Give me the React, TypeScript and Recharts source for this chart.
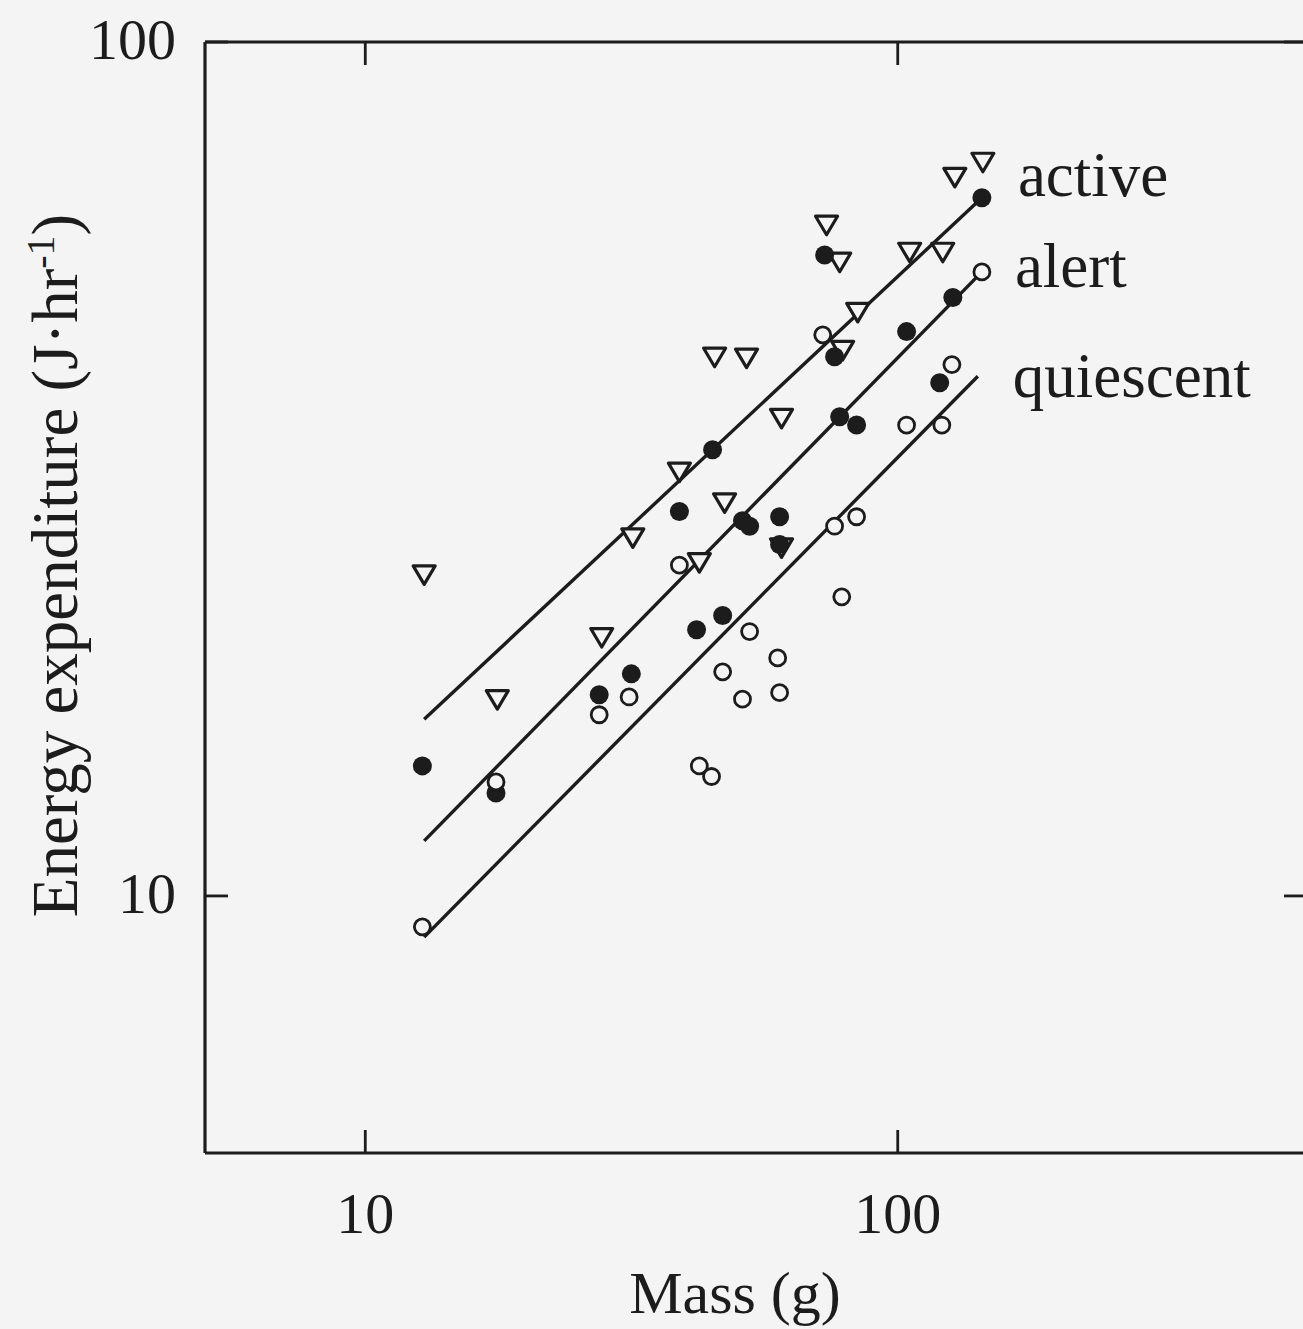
import { Scatter, ScatterChart, XAxis, YAxis } from 'recharts';

const INK = '#1c1c1c';
const PAPER = '#f4f4f4';
const SERIF = '"Liberation Serif", "DejaVu Serif", serif';

// axis ticks
const massTicks = [10, 100];
const energyTicks = [10, 100];

// open triangles: active
const activeMass = [144.5, 128, 73.5, 77.8, 105.3, 121.5, 84.1, 78.8, 45.3, 52.0, 60.5, 38.9, 47.3, 31.8, 42.4, 12.9, 27.8, 17.7, 60.5];
const activeEnergy = [72.4, 69.5, 61.1, 55.3, 56.8, 56.8, 48.3, 43.6, 42.8, 42.7, 36.3, 31.4, 28.9, 26.3, 24.6, 23.8, 20.1, 17.0, 25.6];

// filled circles: alert
const alertMass = [143.9, 72.9, 126.9, 103.9, 76.1, 119.9, 77.8, 83.7, 44.9, 38.9, 51.1, 52.7, 60.0, 60.0, 46.9, 41.9, 31.6, 27.5, 12.8, 17.6];
const alertEnergy = [65.7, 56.3, 50.2, 45.8, 42.8, 39.9, 36.4, 35.6, 33.3, 28.2, 27.5, 27.1, 27.8, 25.8, 21.3, 20.5, 18.2, 17.2, 14.2, 13.2];

// open circles: quiescent
const quietMass = [143.9, 72.3, 126.4, 103.9, 121.0, 76.1, 83.7, 38.9, 78.5, 52.7, 59.5, 46.9, 60.0, 51.1, 31.3, 27.5, 42.4, 44.7, 17.6, 12.8];
const quietEnergy = [53.8, 45.4, 41.9, 35.6, 35.6, 27.1, 27.8, 24.4, 22.4, 20.4, 19.0, 18.3, 17.3, 17.0, 17.1, 16.3, 14.2, 13.8, 13.6, 9.2];

// fitted lines (end points)
const activeFitMass = [12.9, 143.9];
const activeFitEnergy = [16.1, 65.7];
const alertFitMass = [12.9, 143.9];
const alertFitEnergy = [11.6, 53.8];
const quietFitMass = [12.9, 141.4];
const quietFitEnergy = [8.95, 40.6];

const toPoints = (xs: number[], ys: number[]) => xs.map((m, i) => ({ mass: m, energy: ys[i] }));
const toFit = (xs: number[], ys: number[], name: string) =>
  xs.map((m, i) => ({ mass: m, energy: ys[i], name: i === xs.length - 1 ? name : undefined }));

const OpenCircle = (p: any) => (
  <circle cx={p.cx} cy={p.cy} r={8} fill={PAPER} stroke={INK} strokeWidth={2.8} />
);
const FilledCircle = (p: any) => <circle cx={p.cx} cy={p.cy} r={9.5} fill={INK} />;
const Triangle = (p: any) => (
  <path
    d={`M${p.cx - 11},${p.cy - 8.5} L${p.cx + 11},${p.cy - 8.5} L${p.cx},${p.cy + 10} Z`}
    fill={PAPER}
    stroke={INK}
    strokeWidth={3.2}
    strokeLinejoin="round"
  />
);

const fitLabel = (dx: number, dy: number) => (p: any) =>
  p.payload?.name ? (
    <text x={p.cx + dx} y={p.cy + dy} fontSize={63} fontFamily={SERIF} fill={INK}>
      {p.payload.name}
    </text>
  ) : (
    <g />
  );

const tickStyle = { stroke: INK, strokeWidth: 2.8 };

function BottomTick({ x, y, payload }: any) {
  return (
    <g>
      <line x1={x} y1={y} x2={x} y2={y - 23} {...tickStyle} />
      <text x={x} y={y + 80} textAnchor="middle" fontSize={58} fontFamily={SERIF} fill={INK}>
        {payload.value}
      </text>
    </g>
  );
}
function TopTick({ x, y }: any) {
  return <line x1={x} y1={y} x2={x} y2={y + 23} {...tickStyle} />;
}
function LeftTick({ x, y, payload }: any) {
  return (
    <g>
      <line x1={x} y1={y} x2={x + 23} y2={y} {...tickStyle} />
      <text x={x - 29} y={y + 17} textAnchor="end" fontSize={58} fontFamily={SERIF} fill={INK}>
        {payload.value}
      </text>
    </g>
  );
}
function RightTick({ x, y }: any) {
  return <line x1={x} y1={y} x2={x - 23} y2={y} {...tickStyle} />;
}

const YTitle = (props: any) => {
  const vb = props.viewBox || { x: 0, y: 42, width: 205, height: 1111 };
  const x = vb.x + 77;
  const y = vb.y + vb.height / 2 - 32;
  return (
    <text x={x} y={y} transform={`rotate(-90 ${x} ${y})`} textAnchor="middle" fontSize={65} fontFamily={SERIF} fill={INK}>
      Energy expenditure (J·hr
      <tspan dy={-23} fontSize={40}>-1</tspan>
      <tspan dy={23}>)</tspan>
    </text>
  );
};

const XTitle = (props: any) => {
  const vb = props.viewBox || { x: 205, y: 1153, width: 1102, height: 176 };
  return (
    <text x={vb.x + vb.width / 2 - 21} y={vb.y + 160} textAnchor="middle" fontSize={60} fontFamily={SERIF} fill={INK}>
      Mass (g)
    </text>
  );
};

export default function App() {
  const axisLine = { stroke: INK, strokeWidth: 3.2 };
  const xCommon = {
    type: 'number' as const,
    dataKey: 'mass',
    scale: 'log' as const,
    domain: [5, 587],
    allowDataOverflow: true,
    ticks: massTicks,
    interval: 0 as const,
    tickSize: 0,
    tickMargin: 0,
    tickLine: false,
    axisLine,
  };
  const yCommon = {
    type: 'number' as const,
    dataKey: 'energy',
    scale: 'log' as const,
    domain: [5, 100],
    allowDataOverflow: true,
    ticks: energyTicks,
    interval: 0 as const,
    tickSize: 0,
    tickMargin: 0,
    tickLine: false,
    axisLine,
  };
  const fitLine = { stroke: INK, strokeWidth: 3.4 };

  return (
    <div
      style={{
        position: 'absolute',
        left: 0,
        top: 0,
        width: 1303,
        height: 1329,
        overflow: 'hidden',
        background: PAPER,
      }}
    >
      <ScatterChart width={1330} height={1329} margin={{ top: 12, right: 0, bottom: 0, left: 0 }}>
        <XAxis {...xCommon} xAxisId="bottom" orientation="bottom" height={176} tick={<BottomTick />} label={{ content: XTitle }} />
        <XAxis {...xCommon} xAxisId="top" orientation="top" height={30} tick={<TopTick />} />
        <YAxis {...yCommon} yAxisId="left" orientation="left" width={205} tick={<LeftTick />} label={{ content: YTitle }} />
        <YAxis {...yCommon} yAxisId="right" orientation="right" width={23} tick={<RightTick />} />

        <Scatter xAxisId="bottom" yAxisId="left" data={toFit(activeFitMass, activeFitEnergy, 'active')} line={fitLine} shape={fitLabel(36, -2)} isAnimationActive={false} />
        <Scatter xAxisId="bottom" yAxisId="left" data={toFit(alertFitMass, alertFitEnergy, 'alert')} line={fitLine} shape={fitLabel(33, 15)} isAnimationActive={false} />
        <Scatter xAxisId="bottom" yAxisId="left" data={toFit(quietFitMass, quietFitEnergy, 'quiescent')} line={fitLine} shape={fitLabel(35, 21)} isAnimationActive={false} />

        <Scatter xAxisId="bottom" yAxisId="left" data={toPoints(activeMass, activeEnergy)} shape={Triangle} isAnimationActive={false} />
        <Scatter xAxisId="bottom" yAxisId="left" data={toPoints(alertMass, alertEnergy)} shape={FilledCircle} isAnimationActive={false} />
        <Scatter xAxisId="bottom" yAxisId="left" data={toPoints(quietMass, quietEnergy)} shape={OpenCircle} isAnimationActive={false} />
      </ScatterChart>
    </div>
  );
}
